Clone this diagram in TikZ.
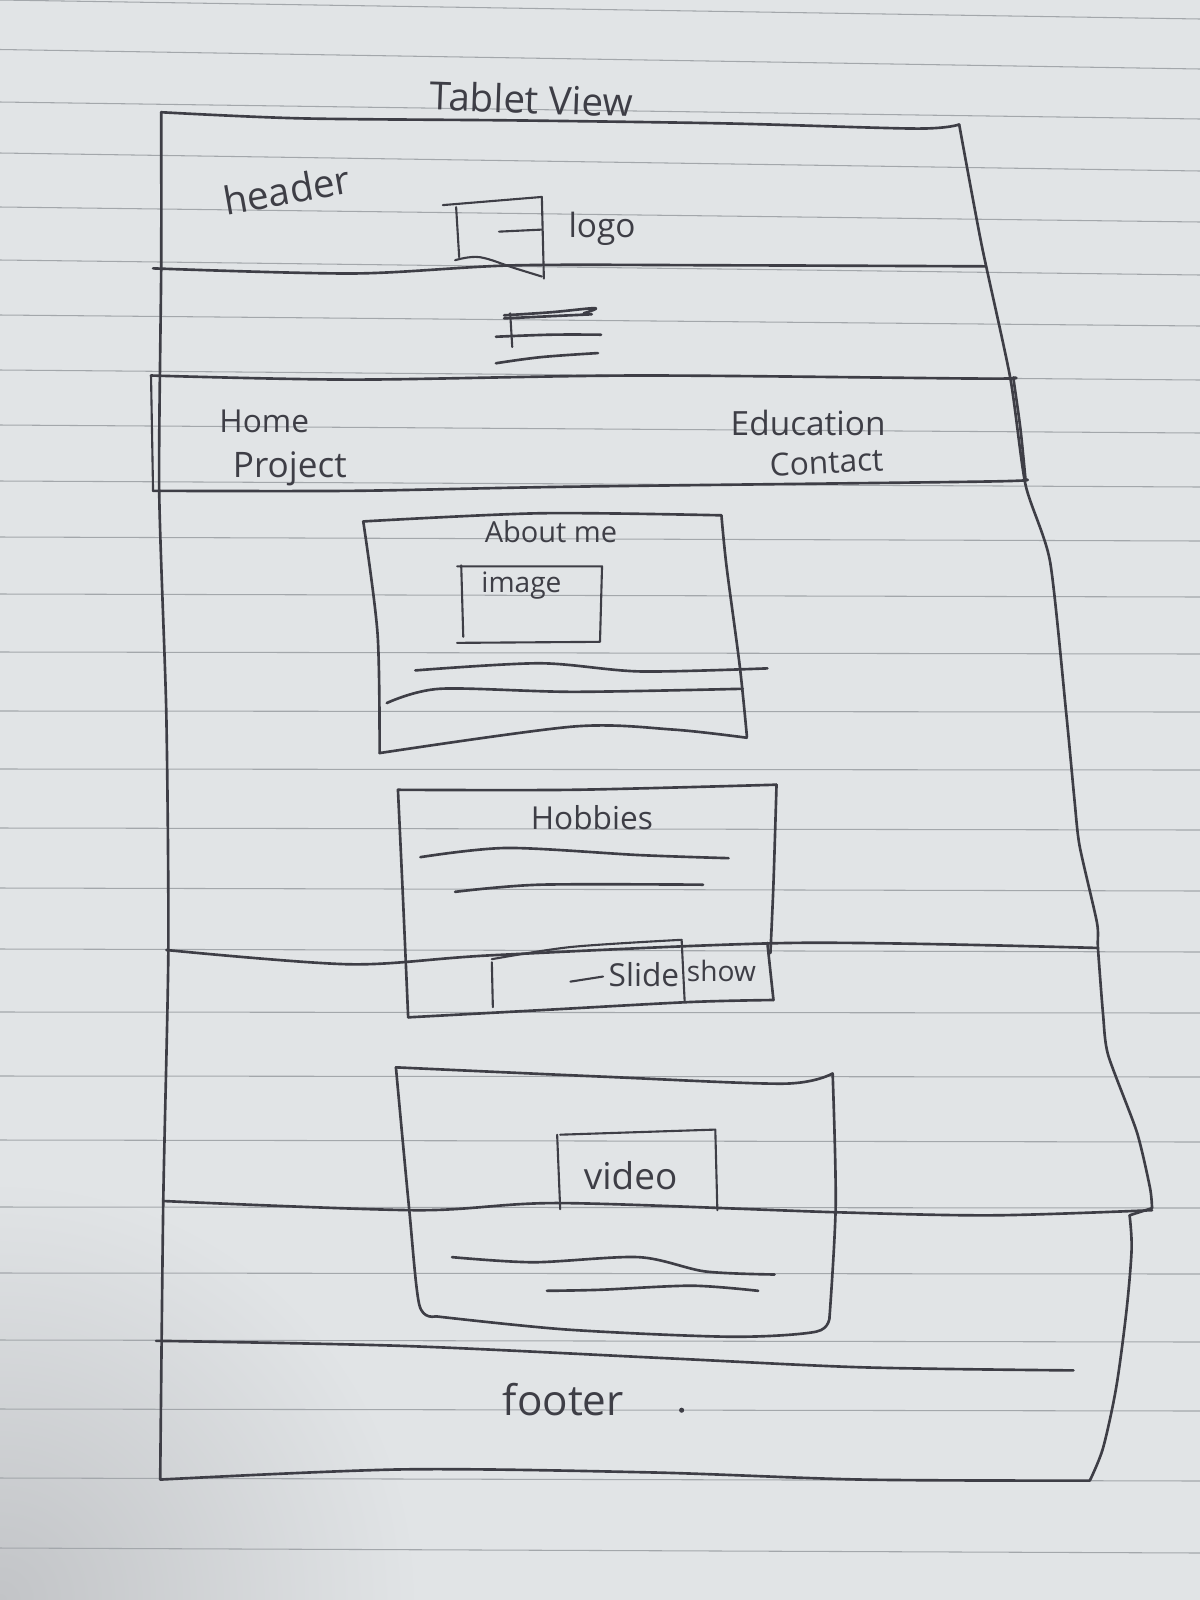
\documentclass[tikz,border=0pt]{standalone}
\usepackage{fontspec}
\setmainfont{Open Sans}
\definecolor{paper}{HTML}{E1E4E6}
\definecolor{rulec}{HTML}{A3A7AB}
\definecolor{penc}{HTML}{3E3E46}
\definecolor{shadowc}{HTML}{C2C4C7}
\begin{document}
\begin{tikzpicture}[x=0.02cm,y=-0.02cm,
  pen/.style={draw=penc, line width=1.5pt, line cap=round, line join=round},
  thinpen/.style={draw=penc, line width=1.2pt, line cap=round, line join=round},
  rule/.style={draw=rulec, line width=0.6pt},
  hand/.style={text=penc, inner sep=0pt, anchor=center},
]
% paper
\fill[paper] (0,0) rectangle (1200,1600);
\useasboundingbox (0,0) rectangle (1200,1600);
\begin{scope}
  \clip (0,0) rectangle (1200,1600);
  \shade[inner color=shadowc, outer color=paper] (0,1600) circle (420);
\end{scope}
% ruled lines of the notebook page
\foreach \a/\b in {0/19,49.5/69,102/119,153/171,207/222,260/275,315/326,370/380,425/433,481/487,537/541,594/597,652/654,711/712,769/770,828/830,888/891,949/952,1012/1013,1076/1077,1140/1142,1207/1208,1273/1274,1340/1342,1409/1411,1478/1481,1548/1553}
  \draw[rule] (0,\a) -- (1200,\b);

\begin{scope}[scale=1.0204]
% ---------- title ----------
\node[hand, font=\fontsize{22}{24}\selectfont, rotate=-2] (title) at (521,97) {Tablet View};

% ---------- page outline ----------
\draw[pen] plot[smooth, tension=0.5] coordinates {(158,110) (295,116) (505,118) (714,121) (898,126) (940,122)};
\draw[pen] plot[smooth, tension=0.4] coordinates {(158,110) (158,260) (156,480) (163,700) (165,930) (160,1177) (157,1450)};
\draw[pen] plot[smooth, tension=0.4] coordinates {(940,122) (962,240) (990,370) (1005,475) (1029,550) (1045,700) (1053,784) (1058,829) (1075,904) (1076,929) (1081,994) (1086,1034) (1114,1109) (1127,1164) (1129,1184)};
\draw[pen] (1129,1184) -- (1107,1191);

% ---------- header ----------
\node[hand, font=\fontsize{22}{24}\selectfont, rotate=10] (header) at (281,186) {header};
\draw[pen] plot[smooth, tension=0.5] coordinates {(150,263) (347,268) (505,260) (714,260) (966,261)};
% logo box
\draw[thinpen] (434,201) -- (531,193) -- (533,273);
\draw[thinpen] (447,203) -- (450,252);
\draw[thinpen] plot[smooth, tension=0.6] coordinates {(446,255) (470,252) (505,263) (531,271)};
\draw[thinpen] (489,227) -- (531,225);
\node[hand, font=\fontsize{19}{21}\selectfont] (logo) at (590,224) {logo};
% menu icon
\draw[pen] plot[smooth, tension=0.6] coordinates {(494,309) (540,306) (583,302) (572,307)};
\draw[pen] (494,312) -- (580,308);
\draw[thinpen] (500,307) -- (502,340);
\draw[pen] plot[smooth, tension=0.6] coordinates {(486,330) (540,328) (589,328)};
\draw[pen] plot[smooth, tension=0.6] coordinates {(486,356) (530,350) (586,346)};

% ---------- navigation ----------
\draw[pen] plot[smooth, tension=0.5] coordinates {(148,368) (347,372) (625,368) (960,371) (993,370)};
\draw[pen] plot[smooth, tension=0.5] coordinates {(993,370) (1000,420) (1005,470)};
\draw[pen] plot[smooth, tension=0.5] coordinates {(150,481) (347,481) (557,477) (960,472) (1005,470)};
\draw[thinpen] (148,368) -- (150,481);
\node[hand, font=\fontsize{18}{20}\selectfont] (home) at (259,413) {Home};
\node[hand, font=\fontsize{20}{22}\selectfont] (project) at (284,459) {Project};
\node[hand, font=\fontsize{19}{21}\selectfont] (education) at (792,415) {Education};
\node[hand, font=\fontsize{18}{20}\selectfont, rotate=3] (contact) at (810,453) {Contact};

% ---------- about me ----------
\draw[pen] plot[smooth, tension=0.5] coordinates {(356,511) (529,503) (707,505)};
\draw[pen] plot[smooth, tension=0.5] coordinates {(707,505) (712,555) (725,653) (732,722)};
\draw[pen] plot[smooth, tension=0.5] coordinates {(356,511) (370,621) (372,738)};
\draw[pen] plot[smooth, tension=0.5] coordinates {(372,738) (562,712) (660,715) (732,723)};
\node[hand, font=\fontsize{16.5}{18}\selectfont] (about) at (540,521) {About me};
\draw[thinpen] (452,554) -- (454,624);
\draw[thinpen] (448,555) -- (590,555) -- (588,629) -- (448,630);
\node[hand, font=\fontsize{16}{18}\selectfont] (image) at (511,574) {image};
\draw[pen] plot[smooth, tension=0.5] coordinates {(407,657) (529,650) (627,658) (752,655)};
\draw[pen] plot[smooth, tension=0.5] coordinates {(379,689) (431,675) (562,678) (728,675)};

% ---------- hobbies ----------
\draw[pen] plot[smooth, tension=0.5] coordinates {(390,774) (562,774) (761,769)};
\draw[pen] plot[smooth, tension=0.5] coordinates {(761,769) (758,866) (755,934)};
\draw[pen] (752,924) -- (758,980);
\draw[pen] plot[smooth, tension=0.5] coordinates {(390,774) (395,882) (400,997)};
\draw[pen] plot[smooth, tension=0.5] coordinates {(400,997) (529,990) (676,982) (758,980)};
\node[hand, font=\fontsize{18}{20}\selectfont] (hobbies) at (580,801) {Hobbies};
\draw[pen] plot[smooth, tension=0.5] coordinates {(412,840) (497,831) (627,838) (714,841)};
\draw[pen] plot[smooth, tension=0.5] coordinates {(446,874) (529,867) (689,867)};
% slideshow strip
\draw[thinpen] (482,943) -- (483,987);
\draw[thinpen] plot[smooth, tension=0.5] coordinates {(482,940) (560,928) (668,921)};
\draw[thinpen] (668,921) -- (671,982);
\draw[thinpen] (559,962) -- (591,957);
\node[hand, font=\fontsize{18}{20}\selectfont] (slide) at (631,955) {Slide};
\node[hand, font=\fontsize{16}{18}\selectfont] (show) at (707,952) {show};

% ---------- media section ----------
\draw[pen] plot[smooth, tension=0.5] coordinates {(163,931) (343,945) (485,936) (781,924) (1076,929)};
\draw[pen] plot[smooth, tension=0.5] coordinates {(160,1177) (408,1186) (549,1179) (819,1188) (974,1191) (1129,1186)};
% video card
\draw[pen] plot[smooth, tension=0.5] coordinates {(388,1046) (588,1055) (768,1062) (816,1052)};
\draw[pen] plot[smooth, tension=0.5] coordinates {(816,1052) (819,1180) (813,1290)};
\draw[pen] plot[smooth, tension=0.5] coordinates {(388,1046) (401,1185) (411,1279) (427,1290)};
\draw[pen] plot[smooth, tension=0.5] coordinates {(427,1290) (556,1303) (716,1310) (800,1305) (813,1290)};
\draw[thinpen] (546,1112) -- (549,1185);
\draw[thinpen] (549,1112) -- (701,1107) -- (703,1186);
\node[hand, font=\fontsize{21}{23}\selectfont] (video) at (618,1152) {video};
\draw[pen] plot[smooth, tension=0.5] coordinates {(443,1232) (523,1237) (626,1232) (691,1246) (759,1249)};
\draw[pen] plot[smooth, tension=0.5] coordinates {(536,1265) (588,1264) (678,1260) (743,1265)};

% ---------- footer ----------
\draw[pen] plot[smooth, tension=0.5] coordinates {(1107,1191) (1109,1224) (1104,1284) (1094,1359) (1081,1419) (1068,1451)};
\draw[pen] plot[smooth, tension=0.5] coordinates {(157,1450) (395,1440) (639,1443) (846,1450) (1068,1451)};
\draw[pen] plot[smooth, tension=0.5] coordinates {(153,1314) (395,1319) (652,1331) (846,1340) (1052,1343)};
\node[hand, font=\fontsize{24}{26}\selectfont] (footer) at (552,1372) {footer};
\fill[penc] (668,1382) circle (2.5);
\end{scope}
\end{tikzpicture}
\end{document}
